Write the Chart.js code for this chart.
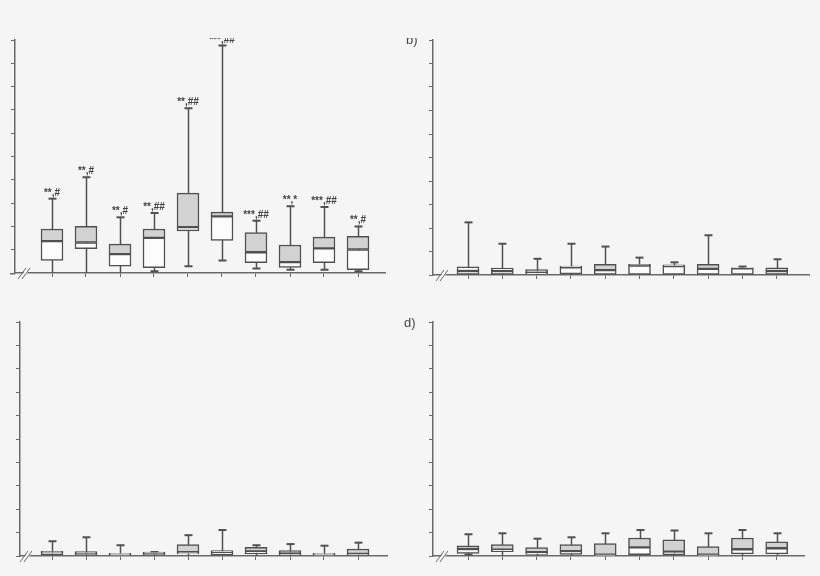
<!DOCTYPE html>
<html>
<head>
<meta charset="utf-8">
<script src="https://cdn.jsdelivr.net/npm/chart.js@4.4.1/dist/chart.umd.min.js"></script>
<style>
  html, body { margin: 0; padding: 0; background: #f5f5f5; }
  body { width: 820px; height: 576px; position: relative; overflow: hidden; }
  canvas { position: absolute; }
</style>
</head>
<body>
<canvas id="panelA" width="400" height="252" style="left:0px;top:38px"></canvas>
<canvas id="panelB" width="420" height="252" style="left:400px;top:38px"></canvas>
<canvas id="panelC" width="400" height="276" style="left:0px;top:300px"></canvas>
<canvas id="panelD" width="420" height="276" style="left:400px;top:300px"></canvas>
<script>
// Categorias (sem rótulos visíveis no recorte) e marcas do eixo y
const categories = ['1', '2', '3', '4', '5', '6', '7', '8', '9', '10'];
const yTicks = [0, 1, 2, 3, 4, 5, 6, 7, 8, 9, 10];

// Painel a)
const aMin = [0, 0, 0, 0.07, 0.29, 0.54, 0.19, 0.14, 0.14, 0.07];
const aQ1  = [0.54, 1.04, 0.29, 0.23, 1.81, 1.40, 0.44, 0.24, 0.44, 0.14];
const aMed = [1.37, 1.31, 0.81, 1.51, 1.97, 2.43, 0.89, 0.47, 1.06, 1.01];
const aQ3  = [1.89, 2.00, 1.24, 1.89, 3.43, 2.61, 1.74, 1.20, 1.54, 1.57];
const aMax = [3.19, 4.11, 2.39, 2.57, 7.07, 9.76, 2.24, 2.86, 2.83, 2.00];
const aSig = ['**,#', '**,#', '**,#', '**,##', '**,##', '***,##', '***,##', '**,*', '***,##', '**,#'];

// Painel b)
const bMin = [0, 0, 0, 0, 0, 0, 0, 0, 0, 0];
const bQ1  = [0.03, 0.03, 0.04, 0.05, 0.03, 0.03, 0.03, 0.03, 0.03, 0.03];
const bMed = [0.17, 0.17, 0.10, 0.33, 0.21, 0.40, 0.38, 0.26, 0.28, 0.17];
const bQ3  = [0.35, 0.29, 0.23, 0.38, 0.45, 0.45, 0.43, 0.45, 0.31, 0.31];
const bMax = [2.24, 1.33, 0.69, 1.33, 1.21, 0.74, 0.54, 1.69, 0.36, 0.67];

// Painel c)
const cMin = [0, 0, 0, 0, 0, 0.03, 0, 0, 0, 0.03];
const cQ1  = [0.06, 0.06, 0.02, 0.06, 0.09, 0.04, 0.09, 0.04, 0.03, 0.04];
const cMed = [0.13, 0.11, 0.07, 0.11, 0.16, 0.16, 0.20, 0.11, 0.07, 0.09];
const cQ3  = [0.20, 0.19, 0.11, 0.17, 0.49, 0.23, 0.37, 0.23, 0.11, 0.30];
const cMax = [0.63, 0.80, 0.46, 0.17, 0.89, 1.11, 0.46, 0.51, 0.44, 0.57];

// Painel d)
const dMin = [0.06, 0.03, 0.03, 0.03, 0, 0, 0, 0, 0, 0.03];
const dQ1  = [0.11, 0.19, 0.07, 0.07, 0.02, 0.06, 0.06, 0.02, 0.09, 0.09];
const dMed = [0.30, 0.27, 0.16, 0.21, 0.06, 0.37, 0.19, 0.06, 0.29, 0.33];
const dQ3  = [0.43, 0.49, 0.36, 0.49, 0.53, 0.77, 0.69, 0.40, 0.77, 0.61];
const dMax = [0.93, 0.97, 0.74, 0.80, 0.97, 1.11, 1.09, 0.97, 1.11, 0.97];

const LINE = '#505050';
const GRAY = '#d2d2d2';
const WHITE = '#fcfcfc';
const AXIS = '#6a6a6a';

// Desenha bigodes, tampas, anotações, quebra do eixo e letra do painel
const boxExtras = {
    id: 'boxExtras',
    beforeDatasetsDraw(chart, args, opts) {
        const ctx = chart.ctx;
        const xs = chart.scales.x, ys = chart.scales.y;
        ctx.save();
        ctx.strokeStyle = LINE;
        opts.min.forEach((mn, i) => {
            const x = Math.round(xs.getPixelForValue(i)) + 0.5;
            const yTop = ys.getPixelForValue(opts.max[i]);
            const yBot = ys.getPixelForValue(mn);
            ctx.lineWidth = 1.5;
            ctx.beginPath();
            ctx.moveTo(x, yTop);
            ctx.lineTo(x, yBot);
            ctx.stroke();
            ctx.lineWidth = 2;
            ctx.beginPath();
            ctx.moveTo(x - 4, yTop);
            ctx.lineTo(x + 4, yTop);
            if (mn > 0.05) {
                ctx.moveTo(x - 4, yBot);
                ctx.lineTo(x + 4, yBot);
            }
            ctx.stroke();
        });
        ctx.restore();
    },
    afterDraw(chart, args, opts) {
        const ctx = chart.ctx;
        const xs = chart.scales.x, ys = chart.scales.y;
        const area = chart.chartArea;
        ctx.save();
        // rótulos de significância
        if (opts.sig) {
            ctx.fillStyle = '#444';
            ctx.font = 'bold 10px "Liberation Sans", Arial, sans-serif';
            ctx.textAlign = 'center';
            ctx.textBaseline = 'alphabetic';
            opts.sig.forEach((s, i) => {
                ctx.fillText(s, xs.getPixelForValue(i), ys.getPixelForValue(opts.max[i]) - 3);
            });
        }
        // eixo x prolongado à esquerda (painel a)
        if (opts.axisStub) {
            ctx.strokeStyle = AXIS;
            ctx.lineWidth = 1.5;
            ctx.beginPath();
            ctx.moveTo(area.left - opts.axisStub, area.bottom + 0.75);
            ctx.lineTo(area.left, area.bottom + 0.75);
            ctx.stroke();
        }
        // quebra do eixo x
        const bx = area.left + opts.breakOffset, by = area.bottom;
        ctx.fillStyle = '#f5f5f5';
        ctx.beginPath();
        ctx.moveTo(bx - 6, by + 6);
        ctx.lineTo(bx - 2, by + 6);
        ctx.lineTo(bx + 6, by - 5);
        ctx.lineTo(bx + 2, by - 5);
        ctx.closePath();
        ctx.fill();
        ctx.strokeStyle = AXIS;
        ctx.lineWidth = 1;
        ctx.beginPath();
        ctx.moveTo(bx - 7, by + 6);
        ctx.lineTo(bx + 1, by - 5);
        ctx.moveTo(bx - 3, by + 6);
        ctx.lineTo(bx + 5, by - 5);
        ctx.stroke();
        // letra do painel
        if (opts.letter) {
            ctx.fillStyle = '#444';
            ctx.font = '13px "Liberation Sans", Arial, sans-serif';
            ctx.textAlign = 'left';
            ctx.textBaseline = 'alphabetic';
            ctx.fillText(opts.letter, opts.letterX, opts.letterY);
        }
        ctx.restore();
    }
};

function makePanel(id, rect, area, first, step, d, upperFills, extra) {
    const pts = (lo, hi) => categories.map((c, i) => ({ x: i, y: [lo[i], hi[i]] }));
    return new Chart(document.getElementById(id).getContext('2d'), {
        type: 'bar',
        data: {
            labels: categories,
            datasets: [{
                data: pts(d.q1, d.med),
                backgroundColor: WHITE,
                borderColor: LINE,
                borderWidth: 1.5,
                borderSkipped: false,
                grouped: false,
                barThickness: 22
            }, {
                data: pts(d.med, d.q3),
                backgroundColor: upperFills,
                borderColor: LINE,
                borderWidth: 1.5,
                borderSkipped: false,
                grouped: false,
                barThickness: 22
            }]
        },
        options: {
            responsive: false,
            animation: false,
            devicePixelRatio: 1,
            layout: {
                padding: {
                    left: area.left - rect.x - 5,
                    right: rect.x + rect.w - area.right,
                    top: area.top - rect.y,
                    bottom: rect.y + rect.h - area.bottom - 5
                }
            },
            scales: {
                x: {
                    type: 'linear',
                    offset: false,
                    min: (area.left - first) / step,
                    max: (area.right - first) / step,
                    afterBuildTicks: s => { s.ticks = categories.map((c, i) => ({ value: i })); },
                    afterFit: s => { s.height = 5; },
                    ticks: { display: false },
                    grid: { drawOnChartArea: false, offset: false, tickLength: 4, color: AXIS, lineWidth: 1 },
                    border: { color: AXIS, width: 1.5 }
                },
                y: {
                    min: 0,
                    max: 10,
                    afterBuildTicks: s => { s.ticks = yTicks.map(v => ({ value: v })); },
                    afterFit: s => { s.width = 5; },
                    ticks: { display: false },
                    grid: { drawOnChartArea: false, tickLength: 4, color: AXIS, lineWidth: 1 },
                    border: { color: AXIS, width: 1.5 }
                }
            },
            plugins: {
                legend: { display: false },
                tooltip: { enabled: false },
                boxExtras: Object.assign({ min: d.min, max: d.max, breakOffset: 10 }, extra)
            }
        },
        plugins: [boxExtras]
    });
}

const gray10 = categories.map(() => GRAY);

makePanel('panelA', { x: 0, y: 38, w: 400, h: 252 }, { left: 15, right: 385, top: 40, bottom: 273 }, 52, 34,
    { min: aMin, q1: aQ1, med: aMed, q3: aQ3, max: aMax }, gray10, { sig: aSig, axisStub: 5 });

makePanel('panelB', { x: 400, y: 38, w: 420, h: 252 }, { left: 433, right: 809, top: 40, bottom: 275 }, 468, 34.3,
    { min: bMin, q1: bQ1, med: bMed, q3: bQ3, max: bMax },
    [WHITE, WHITE, GRAY, GRAY, GRAY, WHITE, WHITE, GRAY, GRAY, WHITE],
    { letter: 'b)', letterX: 6, letterY: 6 });

makePanel('panelC', { x: 0, y: 300, w: 400, h: 276 }, { left: 20, right: 387, top: 322, bottom: 556 }, 52, 34,
    { min: cMin, q1: cQ1, med: cMed, q3: cQ3, max: cMax }, gray10, { breakOffset: 7 });

makePanel('panelD', { x: 400, y: 300, w: 420, h: 276 }, { left: 433, right: 804, top: 322, bottom: 556 }, 468, 34.3,
    { min: dMin, q1: dQ1, med: dMed, q3: dQ3, max: dMax }, gray10,
    { letter: 'd)', letterX: 4, letterY: 27 });
</script>
</body>
</html>
